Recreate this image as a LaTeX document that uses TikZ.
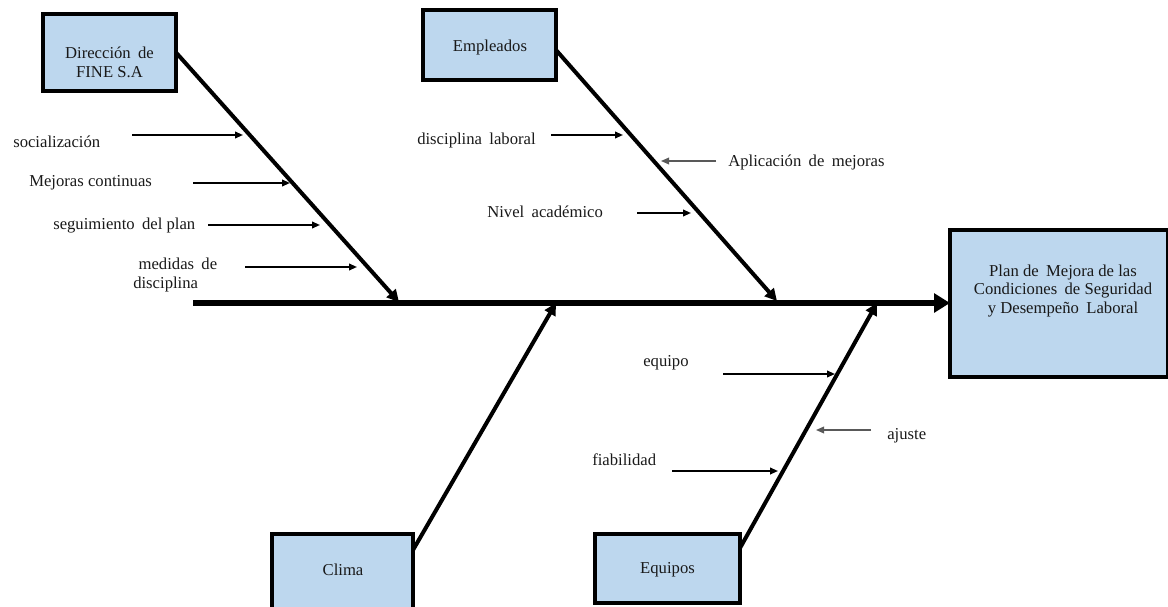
\documentclass[tikz,border=0pt]{standalone}
\usepackage{fontspec}
\setmainfont{Liberation Serif}
\usetikzlibrary{arrows.meta}
\definecolor{boxblue}{RGB}{189,215,238}
\newcommand{\wsp}{\hspace{5.5pt}}
\begin{document}
\begin{tikzpicture}[x=0.75pt,y=-0.75pt,
  lbl/.style={font=\fontsize{12.5}{14}\selectfont, inner sep=0, anchor=west, text=black!90},
  boxtxt/.style={font=\fontsize{12.5}{14}\selectfont, inner sep=0, align=center, text=black!90},
  box/.style={draw, line width=3pt, fill=boxblue, inner sep=0, outer sep=0},
  bone/.style={line width=3pt, -{Triangle[length=9pt,width=9pt]}},
  spine/.style={line width=5pt, -{Triangle[length=12pt,width=14pt]}},
  sub/.style={line width=1.3pt, -{Triangle[length=6pt,width=5pt]}},
  subg/.style={line width=1pt, draw=black!65, -{Triangle[length=6pt,width=5pt]}}]
\useasboundingbox (0,0) rectangle (1168,607);

% boxes
\node[box, minimum width=99.75pt, minimum height=57.75pt] (dir) at (109.5,52.5) {};
\node[boxtxt] (dirt) at (109.5,62.5) {Dirección\wsp de\\FINE S.A};
\node[box, minimum width=99.75pt, minimum height=52.5pt] (emp) at (489.5,45) {};
\node[boxtxt] (empt) at (490,47) {Empleados};
\node[box, minimum width=163.5pt, minimum height=110.25pt] (plan) at (1059,303) {};
\node[boxtxt] (plant) at (1063,291) {Plan de\wsp Mejora de las\\Condiciones\wsp de Seguridad\\y Desempeño\wsp Laboral};
\node[box, minimum width=105.75pt, minimum height=60pt] (clima) at (342.5,574) {};
\node[boxtxt] (climat) at (343,570) {Clima};
\node[box, minimum width=108.75pt, minimum height=51.75pt] (equ) at (667.5,568.5) {};
\node[boxtxt] (equt) at (667.5,570) {Equipos};

% spine
\coordinate (s0) at (193,303);
\draw[spine] (s0) -- (plan.west);

% bones
\coordinate (t1) at (399,302);
\coordinate (t2) at (777,301);
\coordinate (t4) at (556,303);
\coordinate (t5) at (877,303);
\draw[bone] (dir.east) -- (t1);
\draw[bone] ([yshift=-3.75pt]emp.east) -- (t2);
\draw[bone] ([yshift=-12pt]clima.north east) -- (t4);
\draw[bone] ([yshift=-10.5pt]equ.north east) -- (t5);

% labels branch 1
\node[lbl] (l1) at (13,142) {socialización};
\node[lbl] (l2) at (29,183) {Mejoras continuas};
\node[lbl] (l3) at (53,226) {seguimiento\wsp del plan};
\node[lbl, align=left] (l4) at (133,275) {\hspace*{4pt}medidas\wsp de\\disciplina};
\coordinate (a1s) at (132,135); \coordinate (a1e) at (243,135);
\coordinate (a2s) at (193,183); \coordinate (a2e) at (290,183);
\coordinate (a3s) at (208,225); \coordinate (a3e) at (320,225);
\coordinate (a4s) at (245,267); \coordinate (a4e) at (357,267);
\draw[sub] (a1s) -- (a1e);
\draw[sub] (a2s) -- (a2e);
\draw[sub] (a3s) -- (a3e);
\draw[sub] (a4s) -- (a4e);

% labels branch 2
\node[lbl] (m1) at (417,140) {disciplina\wsp laboral};
\node[lbl] (m2) at (728,162) {Aplicación\wsp de\wsp mejoras};
\node[lbl] (m3) at (487,212) {Nivel\wsp académico};
\coordinate (b1s) at (551,135); \coordinate (b1e) at (623,135);
\coordinate (b2s) at (716,161); \coordinate (b2e) at (661,161);
\coordinate (b3s) at (637,213); \coordinate (b3e) at (691,213);
\draw[sub] (b1s) -- (b1e);
\draw[subg] (b2s) -- (b2e);
\draw[sub] (b3s) -- (b3e);

% labels branch 5
\node[lbl] (e1) at (643,363) {equipo};
\node[lbl] (e2) at (887,436) {ajuste};
\node[lbl] (e3) at (592,460) {fiabilidad};
\coordinate (c1s) at (723,374); \coordinate (c1e) at (835,374);
\coordinate (c2s) at (871,430); \coordinate (c2e) at (816,430);
\coordinate (c3s) at (672,471); \coordinate (c3e) at (778,471);
\draw[sub] (c1s) -- (c1e);
\draw[subg] (c2s) -- (c2e);
\draw[sub] (c3s) -- (c3e);
\end{tikzpicture}
\end{document}
